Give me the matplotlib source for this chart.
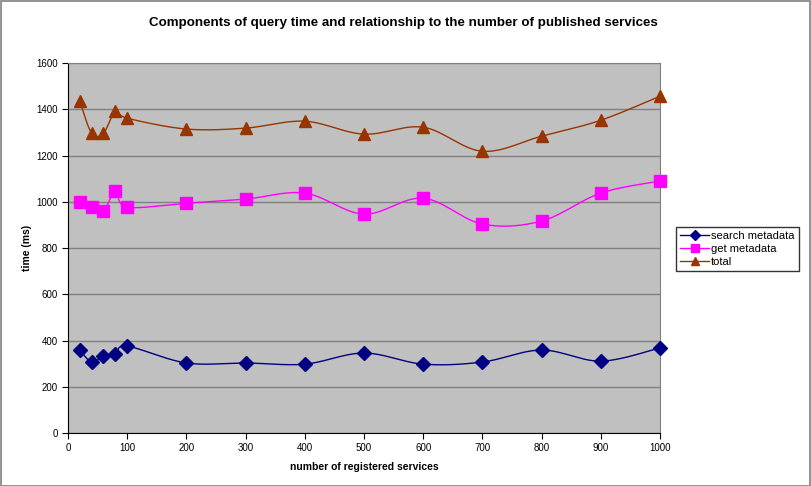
import numpy as np
import matplotlib
matplotlib.use("Agg")
import matplotlib.pyplot as plt
from matplotlib.patches import Rectangle

plt.rcParams['font.family'] = ['Liberation Sans', 'DejaVu Sans']

services = [20, 40, 60, 80, 100, 200, 300, 400, 500, 600, 700, 800, 900, 1000]
search_metadata = [359, 307, 333, 342, 376, 303, 303, 298, 346, 298, 307, 359, 311, 368]
get_metadata = [999, 977, 960, 1046, 977, 994, 1012, 1038, 947, 1016, 904, 917, 1038, 1090]
total = [1436, 1297, 1297, 1392, 1362, 1315, 1319, 1349, 1293, 1323, 1219, 1284, 1353, 1457]


def smooth(xs, ys, n=30):
    """
    Excel-style smoothed line: cubic bezier through the points with
    catmull-rom control points.
    :return: x, y arrays of the curve
    """
    xs = np.asarray(xs, float)
    ys = np.asarray(ys, float)
    out_x, out_y = [], []
    t = np.linspace(0, 1, n)
    for i in range(len(xs) - 1):
        p0 = np.array([xs[max(i - 1, 0)], ys[max(i - 1, 0)]])
        p1 = np.array([xs[i], ys[i]])
        p2 = np.array([xs[i + 1], ys[i + 1]])
        p3 = np.array([xs[min(i + 2, len(xs) - 1)], ys[min(i + 2, len(xs) - 1)]])
        c1 = p1 + (p2 - p0) / 6
        c2 = p2 - (p3 - p1) / 6
        pts = ((1 - t) ** 3)[:, None] * p1 + (3 * (1 - t) ** 2 * t)[:, None] * c1 \
            + (3 * (1 - t) * t ** 2)[:, None] * c2 + (t ** 3)[:, None] * p2
        out_x.extend(pts[:, 0])
        out_y.extend(pts[:, 1])
    return np.array(out_x), np.array(out_y)


fig = plt.figure(figsize=(8.12, 4.86), dpi=100)
fig.patches.append(Rectangle((0.001, 0.001), 0.997, 0.997, transform=fig.transFigure,
                             fill=False, edgecolor='#808080', linewidth=1.2))
ax = fig.add_axes([0.0837, 0.109, 0.729, 0.761])
ax.set_facecolor('#c0c0c0')

series = [
    ("search metadata", search_metadata, '#000080', 'D', 7),
    ("get metadata", get_metadata, '#ff00ff', 's', 8.5),
    ("total", total, '#993300', '^', 9),
]
handles = []
for label, values, color, marker, ms in series:
    sx, sy = smooth(services, values)
    ax.plot(sx, sy, color=color, linewidth=1, zorder=3)
    ax.plot(services, values, linestyle='none', marker=marker, markersize=ms,
            color=color, zorder=4, clip_on=False)
    h, = ax.plot([], [], color=color, marker=marker, markersize=5.5, linewidth=1, label=label)
    handles.append(h)

ax.set_xlim(0, 1000)
ax.set_ylim(0, 1600)
ax.set_xticks(range(0, 1001, 100))
ax.set_yticks(range(0, 1601, 200))
ax.yaxis.grid(True, color='#808080', linewidth=1)
ax.set_axisbelow(True)
ax.tick_params(labelsize=7, length=4, color='black')
for side in ['top', 'right']:
    ax.spines[side].set_color('#808080')
for side in ['left', 'bottom']:
    ax.spines[side].set_color('black')

ax.set_xlabel('number of registered services', fontsize=7.5, fontweight='bold', labelpad=6)
ax.set_ylabel('time (ms)', fontsize=7.5, fontweight='bold', labelpad=3)
fig.text(0.497, 0.952, 'Components of query time and relationship to the number of published services',
         ha='center', va='center', fontsize=9.6, fontweight='bold')

leg = fig.legend(handles=handles, loc='upper left', bbox_to_anchor=(0.826, 0.545),
                 fontsize=8, frameon=True, fancybox=False, edgecolor='black',
                 handlelength=2.6, borderpad=0.35, labelspacing=0.3, handletextpad=0.2)
leg.get_frame().set_linewidth(1)

fig.savefig('out.png', dpi=100)
